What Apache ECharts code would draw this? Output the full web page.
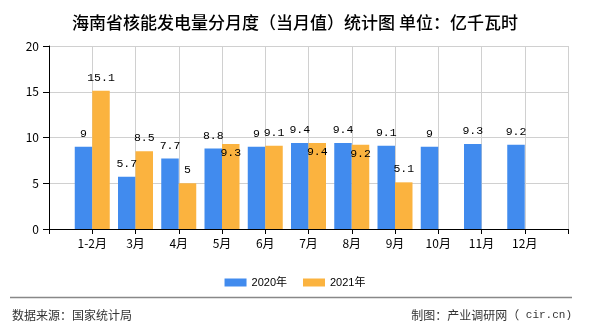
<!DOCTYPE html>
<html>
<head>
<meta charset="utf-8">
<script src="https://cdn.jsdelivr.net/npm/echarts@6/dist/echarts.min.js"></script>
<style>html,body{margin:0;padding:0;background:#fff;}#c{width:590px;height:330px;}</style>
</head>
<body>
<div id="c"></div>
<script>
var categories = ['1-2月','3月','4月','5月','6月','7月','8月','9月','10月','11月','12月'];
var values2020 = [9, 5.7, 7.7, 8.8, 9, 9.4, 9.4, 9.1, 9, 9.3, 9.2];
var values2021 = [15.1, 8.5, 5, 9.3, 9.1, 9.4, 9.2, 5.1];
var yTicks = [0, 5, 10, 15, 20];
var seriesNames = ['2020年', '2021年'];
var insideLabel2021 = ['5月', '7月', '8月'];

var cjk = '"Noto Sans CJK SC", "Liberation Sans", sans-serif';
var mono = '"Liberation Mono", "DejaVu Sans Mono", monospace';

var axisCats = [''].concat(categories, ['']);
function pad(vals) {
  var out = ['-'];
  for (var i = 0; i < categories.length; i++) {
    out.push(i < vals.length ? vals[i] : '-');
  }
  out.push('-');
  return out;
}
var d2020 = pad(values2020);
var d2021 = pad(values2021).map(function (v, i) {
  if (v !== '-' && insideLabel2021.indexOf(axisCats[i]) >= 0) {
    return { value: v, label: { position: 'insideTop', distance: 3 } };
  }
  return v;
});

var chart = echarts.init(document.getElementById('c'));
var labelStyle = { show: true, position: 'top', distance: 7, color: '#000', fontSize: 11.5, fontFamily: mono };
chart.setOption({
  animation: false,
  title: {
    text: '海南省核能发电量分月度（当月值）统计图 单位：亿千瓦时',
    left: 'center', top: 9,
    textStyle: { fontSize: 17, fontWeight: 500, color: '#000', fontFamily: cjk }
  },
  legend: {
    data: seriesNames, left: 'center', top: 272,
    itemWidth: 22, itemHeight: 8, itemGap: 16,
    icon: 'rect',
    textStyle: { fontSize: 11, color: '#000', fontFamily: '"Liberation Sans", "Noto Sans CJK SC", sans-serif' }
  },
  grid: { left: 49, right: 22, top: 46, bottom: 101, containLabel: false },
  xAxis: {
    type: 'category', data: axisCats, boundaryGap: false,
    axisLine: { lineStyle: { color: '#000', width: 1 } },
    axisTick: { show: true, interval: 0, length: 5, lineStyle: { color: '#000' } },
    axisLabel: { interval: 0, margin: 8, color: '#000', fontSize: 12, fontFamily: cjk },
    splitLine: { show: true, interval: 0, lineStyle: { color: '#d0d0d0', width: 1 } }
  },
  yAxis: {
    type: 'value', min: yTicks[0], max: yTicks[yTicks.length - 1], interval: 5,
    axisLine: { show: true, lineStyle: { color: '#000', width: 1 } },
    axisTick: { show: true, length: 6, lineStyle: { color: '#000' } },
    axisLabel: { margin: 10, color: '#000', fontSize: 12, fontFamily: cjk },
    splitLine: { show: true, lineStyle: { color: '#d0d0d0', width: 1 } }
  },
  series: [
    { name: seriesNames[0], type: 'bar', data: d2020, barWidth: 17.5, barGap: '0%',
      itemStyle: { color: '#418BEE' }, label: labelStyle },
    { name: seriesNames[1], type: 'bar', data: d2021, barWidth: 17.5, barGap: '0%',
      itemStyle: { color: '#FBB33F' }, label: labelStyle }
  ],
  graphic: [
    { type: 'line', shape: { x1: 10, y1: 297.5, x2: 572, y2: 297.5 }, style: { stroke: '#888', lineWidth: 1.5 } },
    { type: 'text', left: 12, top: 309, style: { text: '数据来源：国家统计局', fontSize: 12, fill: '#333', fontFamily: cjk } },
    { type: 'text', right: 18, top: 309, style: {
        text: '{a|制图：产业调研网（}{b| cir.cn)}',
        rich: {
          a: { fontSize: 12, fill: '#333', fontFamily: cjk },
          b: { fontSize: 11, fill: '#333', fontFamily: mono }
        }
      } }
  ]
});
</script>
</body>
</html>
